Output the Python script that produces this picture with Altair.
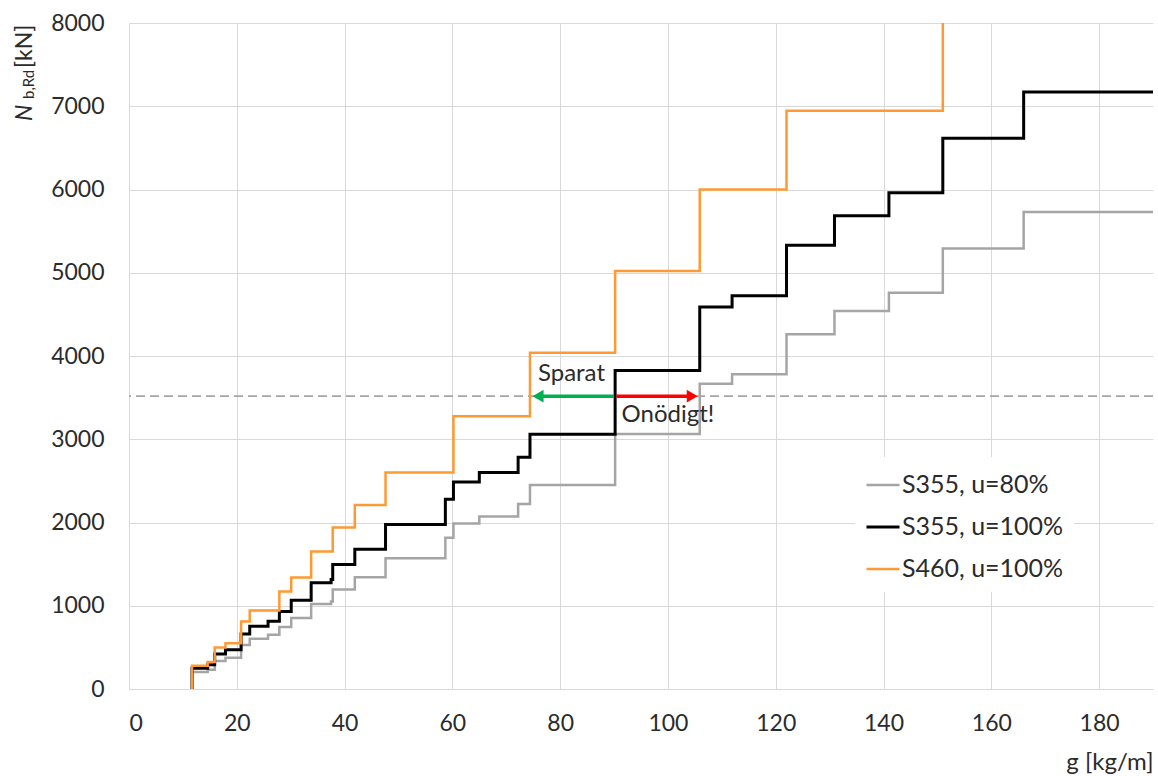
import altair as alt
import pandas as pd

SERIES = ["S355, u=80%", "S355, u=100%", "S460, u=100%"]
COLORS = ["#A5A5A5", "#000000", "#FF9933"]
WIDTHS = [2.5, 3.0, 2.5]

# Step break points (g in kg/m) and buckling resistance N_b,Rd (kN)
g_s355 = [11.7, 14.6, 15.9, 17.9, 20.8, 22.4, 25.8, 27.9, 30.1, 33.8, 37.5, 37.8,
          41.9, 47.6, 58.7, 60.2, 65.0, 72.2, 74.4, 90.2, 105.9, 111.9, 122.0,
          130.9, 141.0, 151.0, 166.0]
n_s355_80 = [205, 232, 336, 376, 528, 604, 652, 744, 852, 1020, 1052, 1196,
             1342, 1572, 1818, 1988, 2072, 2222, 2450, 3062, 3668, 3782, 4260,
             4540, 4760, 5290, 5730]
n_s355_100 = [250, 290, 420, 470, 660, 755, 815, 930, 1065, 1275, 1315, 1495,
              1680, 1975, 2280, 2485, 2600, 2785, 3060, 3825, 4590, 4725, 5330,
              5685, 5960, 6615, 7170]
g_s460 = [11.7, 14.6, 15.9, 17.9, 20.8, 22.4, 27.9, 30.1, 33.8, 37.8, 41.9, 47.6,
          60.2, 74.4, 90.2, 105.9, 122.0, 151.0]
n_s460_100 = [278, 323, 498, 551, 810, 942, 1170, 1339, 1651, 1939, 2210, 2600,
              3275, 4040, 5020, 6000, 6945, 9000]

X_TICKS = [0, 20, 40, 60, 80, 100, 120, 140, 160, 180]
Y_TICKS = [0, 1000, 2000, 3000, 4000, 5000, 6000, 7000, 8000]
X_MAX = 190
Y_MAX = 8000

LOAD_LEVEL = 3518
saved_arrow = [90.0, 75.9]     # green arrow: from, to (arrow head)
wasted_arrow = [90.4, 104.5]   # red arrow: from, to (arrow head)
ANNOT_TEXT = ["Sparat", "Onödigt!"]
ANNOT_G = [82.1, 91.4]
ANNOT_N = [3784, 3292]

FONT = "Lato"
TXT = "#2B2B2B"
TICK_FS = 23


def step_rows(name, gs, ns, end=None):
    rows = [{"series": name, "g": gs[0], "N": 0, "i": 0}]
    for k, (g, n) in enumerate(zip(gs, ns)):
        rows.append({"series": name, "g": g, "N": n, "i": k + 1})
    if end is not None:
        rows.append({"series": name, "g": end, "N": ns[-1], "i": len(gs) + 1})
    return rows


rows = (step_rows(SERIES[0], g_s355, n_s355_80, X_MAX)
        + step_rows(SERIES[1], g_s355, n_s355_100, X_MAX)
        + step_rows(SERIES[2], g_s460, n_s460_100))
df = pd.DataFrame(rows)

legend = alt.Legend(orient="none", legendX=726, legendY=434, title=None,
                    fillColor="white", padding=10, symbolType="stroke",
                    symbolSize=1089, labelFontSize=25, labelFont=FONT,
                    labelColor=TXT, rowPadding=11, labelOffset=1, labelLimit=400)

xscale = alt.Scale(domain=[0, X_MAX], nice=False, zero=False)
yscale = alt.Scale(domain=[0, Y_MAX], nice=False)

base = alt.Chart(df).mark_line(interpolate="step-after", clip=True).encode(
    x=alt.X("g:Q", scale=xscale,
            axis=alt.Axis(values=X_TICKS, grid=True, ticks=False, domain=True,
                          domainColor="#D9D9D9", gridColor="#D9D9D9", format="d",
                          labelFontSize=TICK_FS, labelFont=FONT, labelColor=TXT,
                          labelPadding=23, title="g [kg/m]", titleFont=FONT,
                          titleFontSize=24, titleFontWeight="normal",
                          titleColor=TXT, titleAnchor="end", titleAlign="right",
                          titleX=1024, titleY=73, titleBaseline="middle")),
    y=alt.Y("N:Q", scale=yscale,
            axis=alt.Axis(values=Y_TICKS, grid=True, ticks=False, domain=False,
                          gridColor="#D9D9D9", labelFontSize=TICK_FS, labelFont=FONT,
                          labelColor=TXT, labelPadding=25, title=None, format="d")),
    color=alt.Color("series:N", scale=alt.Scale(domain=SERIES, range=COLORS),
                    legend=legend),
    strokeWidth=alt.StrokeWidth("series:N",
                                scale=alt.Scale(type="ordinal", domain=SERIES, range=WIDTHS),
                                legend=legend),
    order="i:Q",
)

lines = [base.transform_filter(alt.datum.series == s) for s in SERIES]

dash = alt.Chart(pd.DataFrame({"N": [LOAD_LEVEL]})).mark_rule(
    color="#A5A5A5", strokeWidth=1.6, strokeDash=[9, 5]).encode(
    y=alt.Y("N:Q", scale=yscale))

arrows_df = pd.DataFrame({
    "x1": [saved_arrow[0], wasted_arrow[0]],
    "x2": [saved_arrow[1], wasted_arrow[1]],
    "N": [LOAD_LEVEL, LOAD_LEVEL],
    "c": ["#00B050", "#FF0000"],
    "shape": ["triangle-left", "triangle-right"],
})
stems = alt.Chart(arrows_df).mark_rule(strokeWidth=3.5).encode(
    x=alt.X("x1:Q", scale=xscale), x2="x2:Q",
    y=alt.Y("N:Q", scale=yscale), color=alt.Color("c:N", scale=None, legend=None))
heads = alt.Chart(arrows_df).mark_point(filled=True, size=160, opacity=1).encode(
    x=alt.X("x2:Q", scale=xscale), y=alt.Y("N:Q", scale=yscale),
    shape=alt.Shape("shape:N", scale=None, legend=None),
    color=alt.Color("c:N", scale=None, legend=None))

annot1 = alt.Chart(pd.DataFrame({"t": [ANNOT_TEXT[0]], "g": [ANNOT_G[0]], "N": [ANNOT_N[0]]})).mark_text(
    font=FONT, fontSize=24, color=TXT, baseline="middle", align="center").encode(
    x=alt.X("g:Q", scale=xscale), y=alt.Y("N:Q", scale=yscale), text="t:N")
annot2 = alt.Chart(pd.DataFrame({"t": [ANNOT_TEXT[1]], "g": [ANNOT_G[1]], "N": [ANNOT_N[1]]})).mark_text(
    font=FONT, fontSize=24, color=TXT, baseline="middle", align="left").encode(
    x=alt.X("g:Q", scale=xscale), y=alt.Y("N:Q", scale=yscale), text="t:N")

# Y axis title  N_b,Rd [kN]  (rotated, with subscript)
title_main = alt.Chart(pd.DataFrame({"t": ["N"]})).mark_text(
    font=FONT, fontSize=23, fontStyle="italic", color=TXT, angle=270,
    align="left", baseline="alphabetic").encode(
    text="t:N", x=alt.value(-97), y=alt.value(98))
title_sub = alt.Chart(pd.DataFrame({"t": ["b,Rd"]})).mark_text(
    font=FONT, fontSize=15, color=TXT, angle=270,
    align="left", baseline="alphabetic").encode(
    text="t:N", x=alt.value(-95), y=alt.value(76))
title_unit = alt.Chart(pd.DataFrame({"t": ["[kN]"]})).mark_text(
    font=FONT, fontSize=23, color=TXT, angle=270,
    align="left", baseline="alphabetic").encode(
    text="t:N", x=alt.value(-97), y=alt.value(45))

chart = alt.layer(
    dash, *lines, stems, heads, annot1, annot2, title_main, title_sub, title_unit
).properties(
    width=1024, height=666,
    autosize=alt.AutoSizeParams(type="none"),
    padding={"left": 129, "top": 23, "right": 5, "bottom": 87},
    background="white",
).configure_view(stroke=None)

chart.save("out.html", embed_options={"renderer": "svg", "actions": False})
